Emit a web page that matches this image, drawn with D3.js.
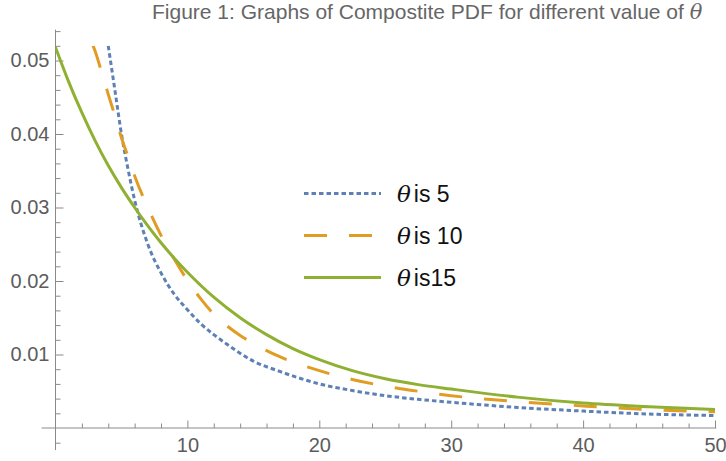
<!DOCTYPE html>
<html>
<head>
<meta charset="utf-8">
<script src="https://cdn.jsdelivr.net/npm/d3@7"></script>
<style>
  body { margin: 0; background: #fff; }
  svg text { font-family: "Liberation Sans", Arial, sans-serif; }
</style>
</head>
<body>
<div id="chart"></div>
<script>
// valores
const xTicks = [10, 20, 30, 40, 50];
const yTicks = [0.01, 0.02, 0.03, 0.04, 0.05];
const legendLabels = ['is 5', 'is 10', 'is15'];

const theta5X = [4, 4.5, 5, 5.5, 6, 7, 8, 9, 10, 11, 12, 13, 15, 17, 20, 22.5, 25, 27.5, 30, 35, 40, 45, 50];
const theta5Y = [0.052, 0.0460, 0.0400, 0.0352, 0.0310, 0.0250, 0.0211, 0.0182, 0.0161, 0.0142, 0.0127, 0.0114,
  0.0091, 0.0077, 0.0060, 0.0051, 0.0044, 0.0039, 0.0035, 0.0028, 0.0023, 0.0019, 0.0017];

const theta10X = [2.85, 3, 3.5, 4, 4.5, 5, 5.5, 6, 7, 8, 9, 10, 11, 12, 13, 14, 15, 17, 20, 22.5, 25, 27.5, 30, 35, 40, 45, 50];
const theta10Y = [0.052, 0.0513, 0.0484, 0.0454, 0.0425, 0.0395, 0.0369, 0.0343, 0.0300, 0.0262, 0.0230, 0.0201,
  0.0176, 0.0155, 0.0139, 0.0126, 0.0115, 0.0097, 0.0078, 0.0066, 0.0057, 0.0050, 0.0044, 0.0036, 0.0030, 0.0025, 0.0022];

const theta15X = [0, 1, 2, 3, 4, 5, 6, 7, 8, 9, 10, 12, 14, 16, 18, 20, 22.5, 25, 27.5, 30, 35, 40, 45, 50];
const theta15Y = [0.0518, 0.0471, 0.0429, 0.0391, 0.0357, 0.0327, 0.0300, 0.0275, 0.0252, 0.0231, 0.0212, 0.0178,
  0.0150, 0.0127, 0.0108, 0.0093, 0.0078, 0.0067, 0.0059, 0.0053, 0.0042, 0.0034, 0.0029, 0.0025];

const width = 726;
const height = 461;

const svg = d3.select('#chart')
  .append('svg')
  .attr('width', width)
  .attr('height', height);

const x = d3.scaleLinear().domain([0, 50]).range([55.5, 715]);
const y = d3.scaleLinear().domain([0, 0.05]).range([428, 60.5]);

const axisColor = '#8a8a8a';
const labelColor = '#5c5c5c';

// titulo
const title = svg.append('text')
  .attr('x', 152)
  .attr('y', 19)
  .attr('fill', '#666')
  .style('font-size', '21px');
title.append('tspan').text('Figure 1: Graphs of Compostite PDF for different value of ');
title.append('tspan').style('font-style', 'italic').style('font-family', '"DejaVu Serif", serif').text('θ');

// linhas dos eixos
svg.append('line')
  .attr('x1', x(-1.05)).attr('x2', x(50.1))
  .attr('y1', y(0)).attr('y2', y(0))
  .attr('stroke', axisColor);
svg.append('line')
  .attr('x1', x(0)).attr('x2', x(0))
  .attr('y1', y(-0.003)).attr('y2', y(0.0542))
  .attr('stroke', axisColor);

// eixo x
const xMinor = d3.range(2, 51, 2).filter(d => d % 10 !== 0);
const xAxis = svg.append('g')
  .attr('transform', `translate(0, ${y(0)})`)
  .call(d3.axisBottom(x).tickValues(xTicks).tickSizeInner(-7.5).tickSizeOuter(0).tickPadding(10));
xAxis.append('g')
  .call(d3.axisBottom(x).tickValues(xMinor).tickSizeInner(-4.5).tickSizeOuter(0).tickFormat(''));

// eixo y
const yMinor = d3.range(-1, 28).map(d => d * 0.002).filter(d => Math.round(d * 1000) % 10 !== 0);
const yAxis = svg.append('g')
  .attr('transform', `translate(${x(0)}, 0)`)
  .call(d3.axisLeft(y).tickValues(yTicks).tickSizeInner(-8).tickSizeOuter(0).tickPadding(6).tickFormat(d3.format('.2f')));
yAxis.append('g')
  .call(d3.axisLeft(y).tickValues(yMinor).tickSizeInner(-5).tickSizeOuter(0).tickFormat(''));

svg.selectAll('.domain').remove();
svg.selectAll('.tick line').attr('stroke', axisColor);
svg.selectAll('.tick text')
  .attr('fill', labelColor)
  .style('font-size', '20px')
  .style('font-family', '"Liberation Sans", Arial, sans-serif');

// curvas
const series = [
  { xs: theta5X, ys: theta5Y, color: '#5e81b5', dash: '4.5,3' },
  { xs: theta10X, ys: theta10Y, color: '#e19c24', dash: '23,22' },
  { xs: theta15X, ys: theta15Y, color: '#8fb032', dash: null }
];

svg.append('clipPath')
  .attr('id', 'plot-clip')
  .append('rect')
  .attr('x', x(0)).attr('y', y(0.052))
  .attr('width', x(50) - x(0)).attr('height', y(0) - y(0.052) + 10);

const line = d3.line()
  .x(d => x(d[0]))
  .y(d => y(d[1]))
  .curve(d3.curveMonotoneX);

svg.append('g')
  .attr('clip-path', 'url(#plot-clip)')
  .selectAll('path')
  .data(series)
  .join('path')
  .attr('d', s => line(s.xs.map((v, i) => [v, s.ys[i]])))
  .attr('fill', 'none')
  .attr('stroke', s => s.color)
  .attr('stroke-width', 3)
  .attr('stroke-dasharray', s => s.dash);

// legenda
const legend = svg.append('g');
const legendY = [193.5, 235.5, 277.5];
series.forEach((s, i) => {
  legend.append('line')
    .attr('x1', 304).attr('x2', 381)
    .attr('y1', legendY[i]).attr('y2', legendY[i])
    .attr('stroke', s.color)
    .attr('stroke-width', 3)
    .attr('stroke-dasharray', s.dash);
  const t = legend.append('text')
    .attr('x', 397)
    .attr('y', legendY[i] + 8)
    .attr('fill', '#111')
    .style('font-size', '23px');
  t.append('tspan').style('font-style', 'italic').style('font-family', '"DejaVu Serif", serif').text('θ');
  t.append('tspan').attr('dx', 3).text(legendLabels[i]);
});
</script>
</body>
</html>
